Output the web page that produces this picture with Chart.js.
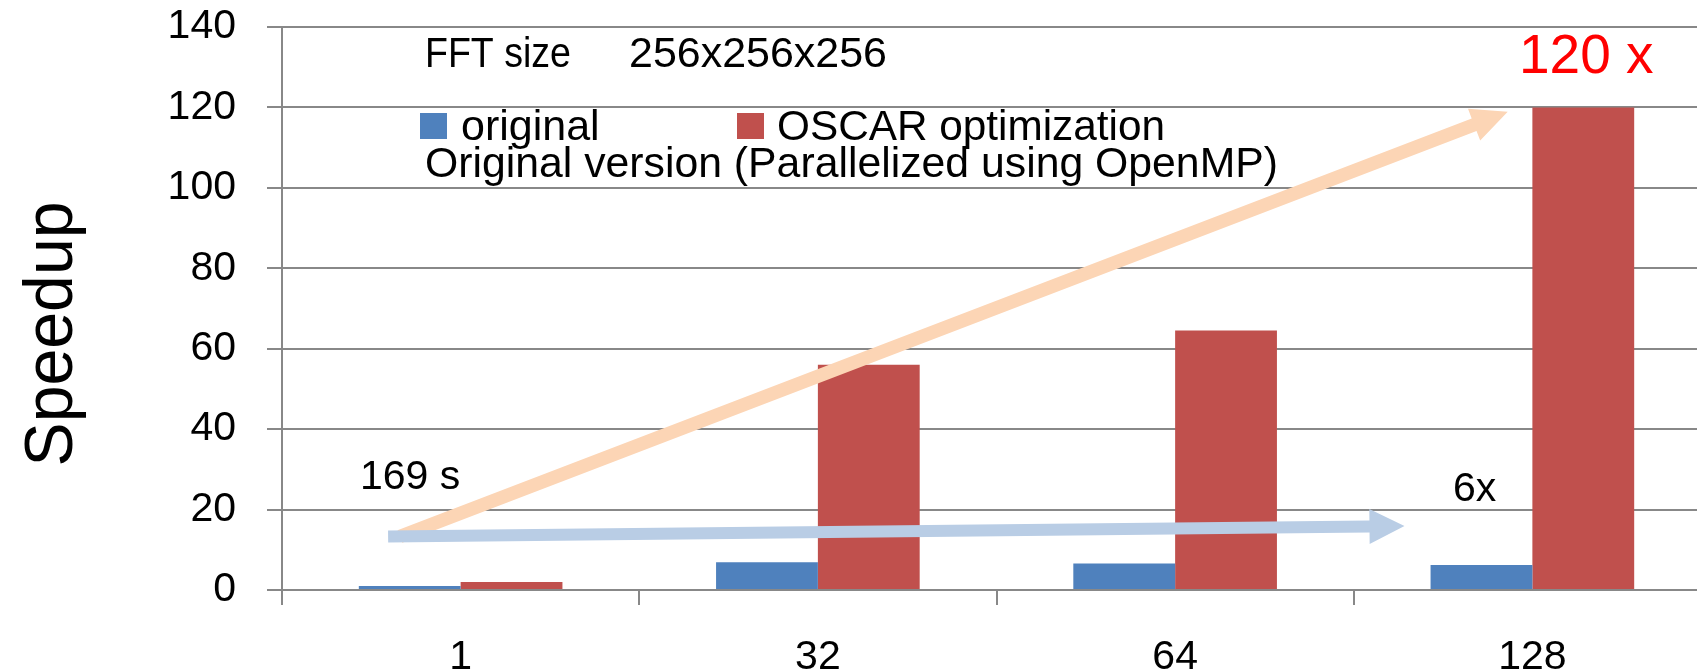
<!DOCTYPE html>
<html>
<head>
<meta charset="utf-8">
<style>
  html, body { margin: 0; padding: 0; background: #ffffff; overflow: hidden; }
  #wrap { width: 1711px; height: 670px; }
</style>
<script src="https://cdn.jsdelivr.net/npm/chart.js@4.4.1/dist/chart.umd.min.js"></script>
</head>
<body>
<div id="wrap"><canvas id="c" width="1711" height="670"></canvas></div>
<script>
// ---- data ----
const categories = ['1', '32', '64', '128'];
const seriesNames = ['original', 'OSCAR optimization'];
const originalSpeedup = [1.0, 6.9, 6.6, 6.2];
const oscarSpeedup = [2.0, 56.0, 64.5, 120];
const yTickValues = [0, 20, 40, 60, 80, 100, 120, 140];
const yAxisTitle = 'Speedup';
const headerLabel = 'FFT size';
const headerSize = '256x256x256';
const noteText = 'Original version (Parallelized using OpenMP)';
const baseTimeText = '169 s';
const origGainText = '6x';
const oscarGainText = '120 x';

const FONT = "'Liberation Sans', Arial, sans-serif";
const GRID = '#888888';

function drawArrow(ctx, x0, y0, x1, y1, shaft, headLen, headW, color) {
  const ang = Math.atan2(y1 - y0, x1 - x0);
  const len = Math.hypot(x1 - x0, y1 - y0);
  ctx.save();
  ctx.translate(x0, y0);
  ctx.rotate(ang);
  ctx.fillStyle = color;
  ctx.beginPath();
  ctx.moveTo(0, -shaft / 2);
  ctx.lineTo(len - headLen, -shaft / 2);
  ctx.lineTo(len - headLen, -headW / 2);
  ctx.lineTo(len, 0);
  ctx.lineTo(len - headLen, headW / 2);
  ctx.lineTo(len - headLen, shaft / 2);
  ctx.lineTo(0, shaft / 2);
  ctx.closePath();
  ctx.fill();
  ctx.restore();
}

const annotationPlugin = {
  id: 'annotations',
  afterDatasetsDraw(chart) {
    const ctx = chart.ctx;
    const xs = chart.scales.x, ys = chart.scales.y;
    const P = (i, v) => [xs.getPixelForValue(i), ys.getPixelForValue(v)];

    // arrows (in data space: category index, value)
    const a1 = P(-0.17, 13.3), b1 = P(2.931, 118.9);
    drawArrow(ctx, a1[0], a1[1], b1[0], b1[1], 13.5, 36, 34, '#FCD5B5');
    const a2 = P(-0.203, 13.3), b2 = P(2.642, 15.9);
    drawArrow(ctx, a2[0], a2[1], b2[0], b2[1], 12, 35, 35, '#B9CDE5');

    ctx.save();
    ctx.textBaseline = 'alphabetic';
    ctx.textAlign = 'left';
    ctx.fillStyle = '#000000';

    // header
    ctx.font = '43px ' + FONT;
    ctx.fillText(headerLabel, 425, 67, 146);
    ctx.fillText(headerSize, 629, 67, 258);

    // legend
    const ds = chart.data.datasets;
    const legendItems = [{sq: 420, tx: 461, w: 143}, {sq: 737, tx: 777, w: 388}];
    ds.forEach((d, k) => {
      ctx.fillStyle = d.backgroundColor;
      ctx.fillRect(legendItems[k].sq, 113, 27, 26);
      ctx.fillStyle = '#000000';
      ctx.fillText(d.label, legendItems[k].tx, 140, legendItems[k].w);
    });
    ctx.fillText(noteText, 425, 177, 853);

    // annotations
    ctx.font = '41px ' + FONT;
    ctx.fillText(baseTimeText, 360, 489);
    ctx.fillText(origGainText, 1453, 501);

    ctx.font = '55px ' + FONT;
    ctx.fillStyle = '#FF0000';
    ctx.fillText(oscarGainText, 1519, 73);

    // y axis title
    ctx.fillStyle = '#000000';
    ctx.font = '68px ' + FONT;
    ctx.translate(72, 334);
    ctx.rotate(-Math.PI / 2);
    ctx.textAlign = 'center';
    ctx.fillText(yAxisTitle, 0, 0, 265);
    ctx.restore();
  }
};

new Chart(document.getElementById('c'), {
  type: 'bar',
  data: {
    labels: categories,
    datasets: [
      { label: seriesNames[0], data: originalSpeedup, backgroundColor: '#4F81BD', borderWidth: 0,
        categoryPercentage: 0.57, barPercentage: 1.0 },
      { label: seriesNames[1], data: oscarSpeedup, backgroundColor: '#C0504D', borderWidth: 0,
        categoryPercentage: 0.57, barPercentage: 1.0 }
    ]
  },
  options: {
    responsive: false,
    animation: false,
    devicePixelRatio: 1,
    layout: { padding: { top: 27, left: 0, right: 0, bottom: 0 } },
    plugins: { legend: { display: false }, tooltip: { enabled: false } },
    scales: {
      x: {
        offset: true,
        grid: { display: true, drawOnChartArea: false, drawTicks: true, tickLength: 15, color: GRID, lineWidth: 2 },
        border: { display: true, color: GRID, width: 2 },
        ticks: { font: { family: FONT, size: 41 }, color: '#000000', padding: 28, maxRotation: 0 },
        afterFit: (s) => { s.height = 80; s.paddingLeft = 0; s.paddingRight = 0; }
      },
      y: {
        min: 0, max: 140,
        afterBuildTicks: (s) => { s.ticks = yTickValues.map(v => ({ value: v })); },
        grid: { color: GRID, lineWidth: 2, tickLength: 15, drawTicks: true },
        border: { display: true, color: GRID, width: 2 },
        ticks: { font: { family: FONT, size: 41 }, color: '#000000', padding: 31 },
        afterFit: (s) => { s.width = 282; s.paddingTop = 0; s.paddingBottom = 0; }
      }
    }
  },
  plugins: [annotationPlugin]
});
</script>
</body>
</html>
